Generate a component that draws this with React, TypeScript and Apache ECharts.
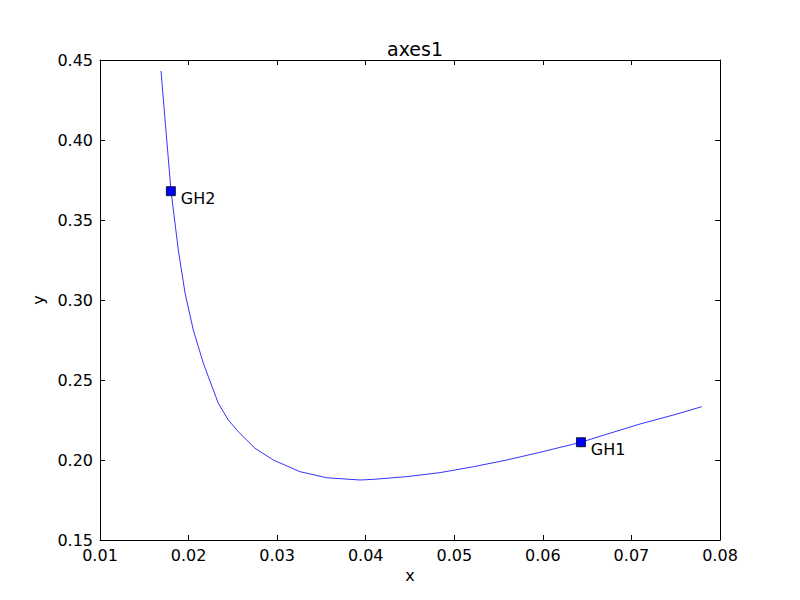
import React, { useEffect, useRef } from "react";
import * as echarts from "echarts";

const curveX = [0.01689, 0.01744, 0.01802, 0.01884, 0.0196, 0.02053, 0.02166, 0.02223, 0.02336, 0.02449, 0.02561, 0.0275, 0.02957, 0.03258, 0.0356, 0.03936, 0.04086, 0.04463, 0.04839, 0.05215, 0.05592, 0.05968, 0.06431, 0.06721, 0.07097, 0.07473, 0.07793];
const curveY = [0.4431, 0.4063, 0.3681, 0.3313, 0.3044, 0.2813, 0.2606, 0.2521, 0.2354, 0.225, 0.2177, 0.2073, 0.2, 0.1927, 0.1889, 0.1875, 0.1879, 0.1896, 0.1921, 0.1958, 0.2, 0.2048, 0.2111, 0.2161, 0.2225, 0.2281, 0.2333];

const pointNames = ["GH1", "GH2"];
const pointX = [0.0643, 0.018];
const pointY = [0.2111, 0.368];

const xTicks = { min: 0.01, max: 0.08, interval: 0.01 };
const yTicks = { min: 0.15, max: 0.45, interval: 0.05 };

const FONT = "DejaVu Sans";

export default function App() {
  const ref = useRef<HTMLDivElement>(null);
  useEffect(() => {
    if (!ref.current) return;
    const chart = echarts.init(ref.current, undefined, { renderer: "svg" });
    const axisLine = { show: true, lineStyle: { color: "#000", width: 1 } };
    const axisTick = { show: true, inside: true, length: 5, lineStyle: { color: "#000" } };
    chart.setOption({
      animation: false,
      backgroundColor: "#fff",
      title: {
        text: "axes1",
        left: 410,
        top: 34,
        textAlign: "center",
        textStyle: { fontFamily: FONT, fontSize: 19, fontWeight: "normal", color: "#000" },
      },
      grid: { left: 100, right: 80, top: 60, bottom: 60 },
      xAxis: [
        {
          type: "value",
          ...xTicks,
          name: "x",
          nameLocation: "middle",
          nameGap: 22,
          nameTextStyle: { fontFamily: FONT, fontSize: 16, color: "#000" },
          axisLine,
          axisTick,
          splitLine: { show: false },
          axisLabel: {
            fontFamily: FONT,
            fontSize: 16,
            color: "#000",
            margin: 7,
            formatter: (v: number) => v.toFixed(2),
          },
        },
        {
          type: "value",
          position: "top",
          ...xTicks,
          axisLine,
          axisTick,
          splitLine: { show: false },
          axisLabel: { show: false },
        },
      ],
      yAxis: [
        {
          type: "value",
          ...yTicks,
          name: "y",
          nameLocation: "middle",
          nameGap: 52,
          nameTextStyle: { fontFamily: FONT, fontSize: 16, color: "#000" },
          axisLine,
          axisTick,
          splitLine: { show: false },
          axisLabel: {
            fontFamily: FONT,
            fontSize: 16,
            color: "#000",
            margin: 7,
            formatter: (v: number) => v.toFixed(2),
          },
        },
        {
          type: "value",
          position: "right",
          ...yTicks,
          axisLine,
          axisTick,
          splitLine: { show: false },
          axisLabel: { show: false },
        },
      ],
      series: [
        {
          type: "line",
          data: curveX.map((x, i) => [x, curveY[i]]),
          showSymbol: false,
          symbol: "none",
          smooth: false,
          lineStyle: { color: "#0000ff", width: 0.8 },
          z: 2,
        },
        {
          type: "scatter",
          data: pointX.map((x, i) => ({ name: pointNames[i], value: [x, pointY[i]] })),
          symbol: "rect",
          symbolSize: 9,
          itemStyle: { color: "#0000ff", borderColor: "#000", borderWidth: 0.8, opacity: 1 },
          label: {
            show: true,
            position: "right",
            distance: 5,
            offset: [0, 7],
            formatter: (p: any) => p.name,
            fontFamily: FONT,
            fontSize: 16,
            color: "#000",
          },
          z: 3,
        },
      ],
    });
    return () => chart.dispose();
  }, []);
  return <div ref={ref} style={{ width: 800, height: 600, margin: -8 }} />;
}
